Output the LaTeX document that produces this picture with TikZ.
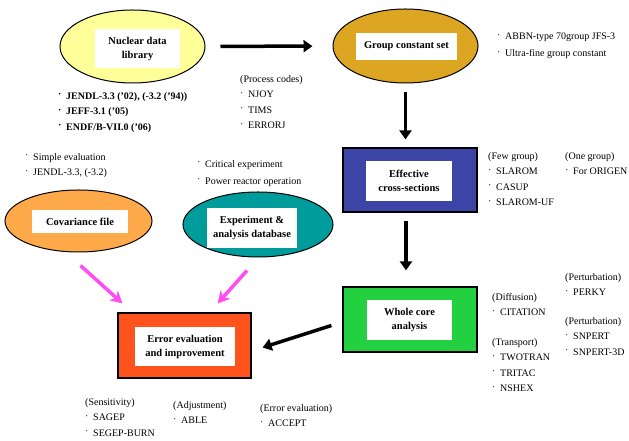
\documentclass[tikz,border=0pt]{standalone}
\usepackage{fontspec}
\setmainfont{Liberation Serif}
\usetikzlibrary{shapes.geometric,arrows.meta,calc}
\definecolor{nucfill}{HTML}{FFFF99}
\definecolor{grpfill}{HTML}{DCA623}
\definecolor{efffill}{HTML}{3C45A6}
\definecolor{whlfill}{HTML}{22D040}
\definecolor{errfill}{HTML}{FF531E}
\definecolor{covfill}{HTML}{FFAA4A}
\definecolor{expfill}{HTML}{009C9C}
\definecolor{pinkline}{HTML}{FF4CF5}
\newcommand\itm{\makebox[8pt][l]{\raisebox{.35ex}{·}}}
\tikzset{
  oval/.style={ellipse, draw=black, line width=1pt, inner sep=0pt},
  slab/.style={rectangle, draw=black, line width=1.2pt, inner sep=0pt},
  tag/.style={rectangle, fill=white, inner sep=0pt, align=center, font=\bfseries\fontsize{10.5}{14}\selectfont},
  memo/.style={anchor=north west, inner sep=0pt, align=left, font=\fontsize{10}{15.5}\selectfont},
  flow/.style={line width=3.5pt, -{Triangle[length=9pt,width=12pt]}},
  feed/.style={line width=3.5pt, draw=pinkline, -{Stealth[length=12pt,width=13pt]}}
}
\begin{document}
\begin{tikzpicture}[x=1pt,y=1pt]
  \useasboundingbox (0,0) rectangle (629,441);

  \node[oval, fill=nucfill, minimum width=145pt, minimum height=73pt] (nuc) at (132.5,394.5) {};
  \node[tag, minimum width=85pt, minimum height=39pt] (nuctag) at (137.5,392.5) {Nuclear data\\library};
  \node[oval, fill=grpfill, minimum width=145pt, minimum height=74pt] (grp) at (405.5,395) {};
  \node[tag, minimum width=101pt, minimum height=27pt] (grptag) at (406.5,394.5) {Group constant set};
  \node[slab, fill=efffill, minimum width=134pt, minimum height=64pt] (eff) at (410,261) {};
  \node[tag, minimum width=86pt, minimum height=40pt] (efftag) at (409,260) {Effective\\cross-sections};
  \node[slab, fill=whlfill, minimum width=134pt, minimum height=65pt] (whl) at (410,121.5) {};
  \node[tag, minimum width=85pt, minimum height=40pt] (whltag) at (409.5,121) {Whole core\\analysis};
  \node[slab, fill=errfill, minimum width=133pt, minimum height=65pt] (err) at (184.5,95.5) {};
  \node[tag, minimum width=100pt, minimum height=39pt] (errtag) at (185,94.5) {Error evaluation\\and improvement};
  \node[oval, fill=covfill, minimum width=147pt, minimum height=62pt] (cov) at (78.5,220) {};
  \node[tag, minimum width=96pt, minimum height=23pt] (covtag) at (80,219.5) {Covariance file};
  \node[oval, fill=expfill, minimum width=150pt, minimum height=65pt] (exp) at (258,216.5) {};
  \node[tag, minimum width=90pt, minimum height=40pt] (exptag) at (252,213) {Experiment \&\\analysis database};

  \draw[flow, shorten <=15pt, shorten >=20pt] (nuc) -- (grp);
  \draw[flow, shorten <=9pt, shorten >=8pt] (grp.south) -- (grp.south |- eff.north);
  \draw[flow, shorten <=8pt, shorten >=16pt] ($(eff.south)+(-4,0)$) -- ($(whl.north)+(-4,0)$);
  \draw[flow] ($(whl.west)+(-11,-6)$) -- ($(err.east)+(11,-2)$);
  \draw[feed] ($(cov.south)+(2,-13)$) -- ($(err.north west)+(5,9)$);
  \draw[feed] ($(exp.south)+(-11,-13)$) -- ($(err.north east)+(-34,9)$);

  \node[memo, font=\bfseries\fontsize{10}{15.5}\selectfont] (nuclist) at (58,349) {\itm JENDL-3.3 ('02), (-3.2 ('94))\\\itm JEFF-3.1 ('05)\\\itm ENDF/B-VII.0 ('06)};
  \node[memo] (proclist) at (240,366) {(Process codes)\\\itm NJOY\\\itm TIMS\\\itm ERRORJ};
  \node[memo] (grplist) at (497,408) {\itm ABBN-type 70group JFS-3\\[1.5pt]\itm Ultra-fine group constant};
  \node[memo] (covlist) at (25,288) {\itm Simple evaluation\\\itm JENDL-3.3, (-3.2)};
  \node[memo] (explist) at (197,281) {\itm Critical experiment\\[1.5pt]\itm Power reactor operation};
  \node[memo] (fewlist) at (488,289) {(Few group)\\\itm SLAROM\\\itm CASUP\\\itm SLAROM-UF};
  \node[memo] (onelist) at (565,289) {(One group)\\\itm For ORIGEN};
  \node[memo] (diflist) at (492,148) {(Diffusion)\\\itm CITATION};
  \node[memo] (trnlist) at (492,103) {(Transport)\\\itm TWOTRAN\\\itm TRITAC\\\itm NSHEX};
  \node[memo] (pralist) at (565,168) {(Perturbation)\\\itm PERKY};
  \node[memo] (prblist) at (565,124) {(Perturbation)\\\itm SNPERT\\\itm SNPERT-3D};
  \node[memo] (senlist) at (85,43) {(Sensitivity)\\\itm SAGEP\\\itm SEGEP-BURN};
  \node[memo] (adjlist) at (173,40) {(Adjustment)\\\itm ABLE};
  \node[memo] (evalist) at (260,37) {(Error evaluation)\\\itm ACCEPT};
\end{tikzpicture}
\end{document}
